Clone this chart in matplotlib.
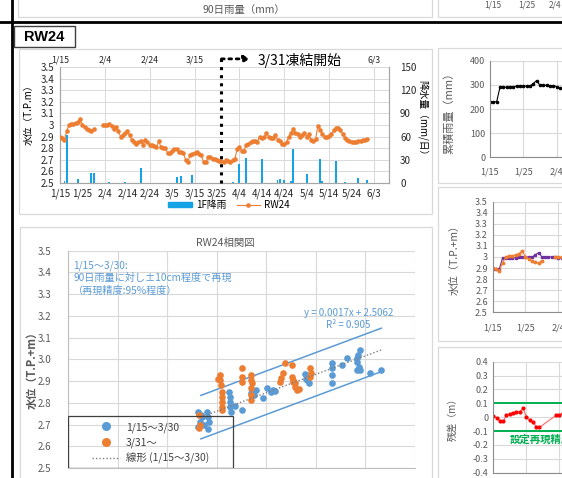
import numpy as np
import pandas as pd
import matplotlib
matplotlib.use("Agg")
import matplotlib.pyplot as plt
import matplotlib.dates as mdates
from matplotlib.patches import Rectangle, Patch
from matplotlib.lines import Line2D
from matplotlib.ticker import MultipleLocator, FuncFormatter

plt.rcParams['font.family'] = ['Noto Sans CJK JP', 'DejaVu Sans']

W, H = 562, 478

# ---------------- data ----------------
year = 2020
start = pd.Timestamp(f'{year}-01-15')

# RW24 daily water level (T.P.m) from 1/15, nan = no data
rw24 = [2.90, 2.89, 2.87, 2.95, 3.00, 3.01, 3.01, 3.02, 3.03, 3.055,
        3.00, 2.98, 2.965, 2.955, 2.945, 2.965, np.nan, np.nan, np.nan, 3.00,
        3.00, 3.00, 3.01, 2.99, 2.965, 2.985, 2.95, 2.90, 2.91, 2.93,
        2.95, 2.91, 2.87, 2.85, 2.84, 2.85, 2.86, 2.83, 2.87, 2.85,
        2.83, 2.825, 2.82, 2.81, 2.86, 2.81, 2.805, 2.80, 2.76, 2.76,
        2.78, 2.79, 2.79, 2.77, 2.765, 2.76, 2.70, 2.68, 2.74, 2.75,
        2.76, 2.77, 2.75, 2.74, 2.68, 2.68, 2.72, 2.72, 2.71, 2.705,
        2.70, 2.69, 2.69, 2.68, 2.70, 2.69, 2.68, 2.70, 2.71, 2.79,
        2.81, 2.775, 2.78, 2.83, 2.84, 2.85, 2.86, 2.86, 2.855, 2.90,
        2.885, 2.90, 2.93, 2.90, 2.89, 2.885, 2.91, 2.875, 2.86, 2.84,
        2.84, 2.85, 2.90, 2.93, 2.965, 2.93, 2.92, 2.90, 2.91, 2.935,
        2.90, 2.92, 2.87, 2.86, 2.88, 2.995, 2.96, 2.92, 2.90, 2.90,
        2.905, 2.92, 2.955, 2.97, 2.975, 2.96, 2.92, 2.89, 2.875, 2.86,
        2.85, 2.85, 2.855, 2.86, 2.865, 2.87, 2.875, 2.88]

# 1F daily rainfall (mm/day)
rain_dates = ['1/17', '1/18', '1/23', '1/29', '1/30', '2/6', '2/13', '2/20',
              '3/7', '3/9', '3/14', '4/1', '4/4', '4/7', '4/14', '4/21',
              '4/22', '4/24', '4/27', '4/28', '5/4', '5/10', '5/11', '5/17',
              '5/21', '5/27', '5/31']
rain_mm = [2, 62, 5, 12.5, 12.5, 1, 1, 20,
           7.5, 9, 10.5, 1, 24.5, 32, 30.5, 4,
           5, 4, 2, 44, 11, 30.5, 3, 29,
           1, 7, 3.5]

top_labels = ['1/15', '2/4', '2/24', '3/15', '6/3']
freeze_line = '3/27'
freeze_arrow_end = '4/9'
freeze_text_at = '4/12'
freeze_text = '3/31凍結開始'

# correlation: 90-day rainfall (mm) vs level
blue_x = [131, 135, 133, 131, 140, 141, 142, 141, 134, 137,
          162, 163, 163, 163, 164, 168, 176, 185, 190, 188,
          197, 201, 205, 207, 239, 241, 243, 240, 266, 266,
          266, 266, 276, 281, 291, 293, 295, 292, 294, 291,
          295, 305, 316, 186, 209]
blue_y = [2.759, 2.733, 2.713, 2.690, 2.759, 2.736, 2.713, 2.678, 2.745, 2.700,
          2.851, 2.828, 2.805, 2.782, 2.759, 2.785, 2.767, 2.844, 2.859, 2.836,
          2.821, 2.867, 2.852, 2.859, 2.932, 2.905, 2.890, 2.910, 2.982, 2.959,
          2.928, 2.889, 2.974, 3.005, 3.005, 3.020, 3.043, 2.989, 2.966, 2.951,
          2.951, 2.939, 2.951, 2.850, 2.855]
orange_x = [132, 132, 133, 153, 153, 154, 155, 155, 155, 155, 155,
            175, 175, 176, 185, 185, 186, 185, 185, 185,
            214, 215, 217, 219, 227, 229, 226, 226, 227, 229, 231, 233,
            244, 245, 244, 151]
orange_y = [2.744, 2.683, 2.698, 2.928, 2.905, 2.882, 2.851, 2.828, 2.805, 2.782, 2.767,
            2.959, 2.918, 2.897, 2.928, 2.905, 2.890, 2.867, 2.836, 2.813,
            2.897, 2.913, 2.936, 2.982, 2.905, 2.890, 2.974, 2.920, 2.897, 2.874, 2.859, 2.862,
            2.960, 2.936, 2.920, 2.910]
trend_slope, trend_intercept, trend_r2 = 0.0017, 2.5062, 0.905
trend_range = [134, 316]
band = 0.1

# right column (first three weeks visible)
cum90 = [230, 230, 230, 290, 290, 290, 290, 292, 295, 295, 295,
         295, 295, 305, 318, 298, 298, 298, 297, 297, 293, 285]
pred = [2.89, 2.89, 2.89, 2.99, 2.99, 2.99, 2.99, 2.995, 3.0, 3.0, 3.0,
        3.0, 3.0, 3.02, 3.04, 3.0, 3.0, 3.0, 3.0, 3.0, 2.995, 2.99]
resid_days = [0, 1, 2, 3, 4, 5, 6, 7, 8, 9, 10, 11, 12, 13, 14, 19, 20, 21]
resid = [0.008, -0.005, -0.025, -0.03, 0.015, 0.025, 0.03, 0.035, 0.04, 0.064,
         0.004, -0.02, -0.035, -0.068, -0.073, 0.013, 0.013, 0.028]
tolerance = 0.1

# ---------------- style ----------------
grid_c = '#D9D9D9'
gray_t = '#595959'
blue_c = '#5B9BD5'
orange_c = '#ED7D31'
rain_c = '#13A3E6'


def md(v, pos=None):
    d = mdates.num2date(v)
    return f'{d.month}/{d.day}'


def general(v, pos=None):
    return f'{round(v, 2) + 0.0:g}'


def day(s):
    return mdates.date2num(pd.Timestamp(f'{year}/{s}'))


fig = plt.figure(figsize=(W / 100, H / 100), dpi=100)


def px_axes(x0, y0, x1, y1, **kw):
    return fig.add_axes([x0 / W, 1 - y1 / H, (x1 - x0) / W, (y1 - y0) / H], **kw)


bg = fig.add_axes([0, 0, 1, 1], zorder=-10)
bg.set_xlim(0, W)
bg.set_ylim(H, 0)
bg.axis('off')

for (x0, y0, x1, y1) in [(18, -5, 432, 17), (438, -5, 575, 17), (19, 49, 432, 214),
                         (438, 48, 575, 183), (438, 187, 575, 341), (438, 347, 575, 490),
                         (20, 227, 432, 490)]:
    bg.add_patch(Rectangle((x0, y0), x1 - x0, y1 - y0, facecolor='white',
                           edgecolor=grid_c, lw=0.9))
bg.plot([0, W], [21.5, 21.5], color='black', lw=2)
bg.plot([12, 12], [0, H], color='black', lw=2)
bg.add_patch(Rectangle((14, 26), 61, 21, facecolor='white', edgecolor='#404040', lw=1))
bg.text(44.5, 36.8, 'RW24', ha='center', va='center', fontsize=10.5,
        fontweight='bold', family='Liberation Sans')
bg.text(244, 9.5, '90日雨量（mm）', ha='center', va='center', fontsize=7.5, color=gray_t)
for lab, xx in zip(['1/15', '1/25', '2/4'], [493, 527, 555]):
    bg.text(xx, 5, lab, ha='center', va='center', fontsize=6, color=gray_t)
bg.text(225, 243, 'RW24相関図', ha='center', va='center', fontsize=7.5, color=gray_t)

# ---------------- RW24 time series ----------------
dates = pd.date_range(start, periods=len(rw24))
rain_days = pd.to_datetime([f'{year}/{d}' for d in rain_dates])
ticks10 = pd.date_range(start, f'{year}-06-03', freq='10D')
ticks20 = pd.date_range(start, f'{year}-06-03', freq='20D')

ax_rain = px_axes(60, 67, 389, 183)
ax_rain.bar(rain_days, rain_mm, width=0.85, color=rain_c, zorder=2)
ax_rain.set_ylim(0, 150)
ax_rain.set_xlim(start, start + pd.Timedelta(days=146.7))
ax_rain.yaxis.set_major_locator(MultipleLocator(30))
ax_rain.yaxis.set_minor_locator(MultipleLocator(15))
ax_rain.grid(axis='y', which='both', color=grid_c, lw=0.7)
for d in ticks20[1:]:
    ax_rain.axvline(d, color=grid_c, lw=0.7, zorder=0)
ax_rain.set_axisbelow(True)
ax_rain.set_xticks(ticks10)
ax_rain.xaxis.set_major_formatter(FuncFormatter(md))
ax_rain.tick_params(axis='x', length=0, labelsize=7, pad=4, colors='#262626')

ax_lv = ax_rain.twinx()
ax_lv.plot(dates, rw24, color=orange_c, lw=0.8, marker='o', ms=2.3, zorder=3)
ax_lv.set_ylim(2.5, 3.5)
ax_lv.yaxis.set_major_locator(MultipleLocator(0.1))
ax_lv.yaxis.set_major_formatter(FuncFormatter(general))

ax_rain.yaxis.tick_right()
ax_rain.yaxis.set_label_position('right')
ax_lv.yaxis.tick_left()
ax_lv.yaxis.set_label_position('left')
ax_rain.tick_params(axis='y', which='both', length=0, labelsize=7, pad=8, colors='#262626')
ax_lv.tick_params(axis='y', length=0, labelsize=7, pad=4, colors='#262626')
ax_lv.set_ylabel('水位（T.P.m）', fontsize=7)
ax_lv.yaxis.set_label_coords(-0.079, 0.61)
ax_rain.set_ylabel('降水量（mm/日）', fontsize=7, rotation=270, va='center')
ax_rain.yaxis.set_label_coords(1.103, 0.54)
for a in (ax_rain, ax_lv):
    a.spines['top'].set_visible(False)
    for s in ('left', 'right', 'bottom'):
        a.spines[s].set_color('#A6A6A6')
        a.spines[s].set_linewidth(0.8)

for lab in top_labels:
    ax_rain.text(day(lab), 1.063, lab, transform=ax_rain.get_xaxis_transform(),
                 ha='center', va='center', fontsize=6.3, color='#262626')

fx = day(freeze_line)
ax_lv.plot([fx, fx], [2.5, 3.605], ls=':', color='black', lw=2.2, clip_on=False, zorder=5)
ax_lv.annotate('', xy=(day(freeze_arrow_end), 3.57), xytext=(fx, 3.57),
               arrowprops=dict(arrowstyle='-|>', ls=':', lw=2, color='black',
                               mutation_scale=9, shrinkA=0, shrinkB=0),
               annotation_clip=False)
ax_lv.text(day(freeze_text_at), 3.552, freeze_text, ha='left', va='center', fontsize=10)

ts_handles = [Patch(facecolor=rain_c, edgecolor=rain_c, label='1F降雨'),
              Line2D([], [], color=orange_c, lw=0.8, marker='o', ms=2.3, label='RW24')]
fig.legend(handles=ts_handles, loc='center', bbox_to_anchor=(229 / W, 1 - 205 / H),
           ncol=2, frameon=False, fontsize=7, handlelength=2.4, handleheight=0.5,
           columnspacing=1.1, handletextpad=0.4)

# ---------------- correlation chart ----------------
ax_s = px_axes(68, 250.7, 415, 468)
ax_s.set_xlim(0, 350)
ax_s.set_ylim(2.5, 3.5)
ax_s.xaxis.set_major_locator(MultipleLocator(50))
ax_s.yaxis.set_major_locator(MultipleLocator(0.1))
ax_s.yaxis.set_major_formatter(FuncFormatter(lambda v, p: f'{v:.1f}'))
ax_s.grid(True, color=grid_c, lw=0.8)
ax_s.set_axisbelow(True)
ax_s.tick_params(length=0, labelsize=7, colors=gray_t, pad=12, labelbottom=False)
for s in ('top', 'right'):
    ax_s.spines[s].set_visible(False)
for s in ('left', 'bottom'):
    ax_s.spines[s].set_color('#BFBFBF')
ax_s.set_ylabel('水位（T.P.+m）', fontsize=8, fontweight='bold', color=gray_t)
ax_s.yaxis.set_label_coords(-0.085, 0.465)

tx = np.array(trend_range, dtype=float)
ty = trend_slope * tx + trend_intercept
ax_s.plot(tx, ty + band, color=blue_c, lw=1.1, zorder=2)
ax_s.plot(tx, ty - band, color=blue_c, lw=1.1, zorder=2)
ax_s.scatter(blue_x, blue_y, s=23, color=blue_c, zorder=3, linewidths=0)
ax_s.scatter(orange_x, orange_y, s=23, color=orange_c, zorder=3, linewidths=0)
ax_s.plot(tx, ty, color='#7F7F7F', lw=1, ls=(0, (1, 1.5)), zorder=4)

ax_s.text(0.015, 0.955, '1/15～3/30:\n90日雨量に対し±10cm程度で再現\n（再現精度:95%程度）',
          transform=ax_s.transAxes, ha='left', va='top', fontsize=7.3, color=blue_c,
          linespacing=1.25)
ax_s.text(0.808, 0.685, f'y = {trend_slope}x + {trend_intercept}\nR² = {trend_r2}',
          transform=ax_s.transAxes, ha='center', va='center', fontsize=7, color=blue_c,
          linespacing=1.3)

ax_s.add_patch(Rectangle((0, 0), 0.4755, 0.239, transform=ax_s.transAxes, fill=False,
                         edgecolor='#404040', lw=0.9, zorder=6))
s_handles = [Line2D([], [], ls='none', marker='o', ms=5.5, color=blue_c, label='1/15～3/30'),
             Line2D([], [], ls='none', marker='o', ms=5.5, color=orange_c, label='3/31～'),
             Line2D([], [], color='#7F7F7F', lw=1, ls=(0, (1, 1.5)), label='線形 (1/15～3/30)')]
ax_s.legend(handles=s_handles, loc='upper left', bbox_to_anchor=(0.055, 0.235),
            frameon=False, fontsize=7.5, borderpad=0, handlelength=2.7,
            handletextpad=0.5, labelspacing=0.45, labelcolor='#404040')

# ---------------- right column ----------------
right_days = pd.date_range(start, periods=len(cum90))
right_ticks = pd.date_range(start, periods=3, freq='10D')


def right_axes(x0, y0, y1, ppd):
    a = px_axes(x0, y0, x0 + 70 * ppd, y1)
    a.set_xlim(start, start + pd.Timedelta(days=70))
    a.set_xticks(right_ticks)
    a.xaxis.set_major_formatter(FuncFormatter(md))
    for d in right_ticks[1:]:
        a.axvline(d, color=grid_c, lw=0.8, zorder=0)
    a.grid(axis='y', color=grid_c, lw=0.8)
    a.set_axisbelow(True)
    for s in ('top', 'right'):
        a.spines[s].set_visible(False)
    for s in ('left', 'bottom'):
        a.spines[s].set_color('#8C8C8C')
        a.spines[s].set_linewidth(0.8)
    a.tick_params(length=0, labelsize=6.5, colors=gray_t)
    return a


ax_a = right_axes(490, 60.7, 157.3, 3.33)
ax_a.plot(right_days, cum90, color='black', lw=0.8, marker='o', ms=1.6)
ax_a.set_ylim(0, 400)
ax_a.yaxis.set_major_locator(MultipleLocator(100))
ax_a.tick_params(axis='x', pad=7)
ax_a.set_ylabel('累積雨量（mm）', fontsize=8, color=gray_t)
ax_a.yaxis.set_label_coords(-0.155, 0.49)

ax_b = right_axes(492.7, 201.7, 312.3, 3.28)
ax_b.plot(right_days, pred, color='#7030A0', lw=0.8, marker='s', ms=1.6)
ax_b.plot(right_days, rw24[:len(right_days)], color=orange_c, lw=0.8, marker='o', ms=1.8)
ax_b.set_ylim(2.5, 3.5)
ax_b.yaxis.set_major_locator(MultipleLocator(0.1))
ax_b.yaxis.set_major_formatter(FuncFormatter(general))
ax_b.tick_params(axis='x', pad=8)
ax_b.set_ylabel('水位（T.P.+m）', fontsize=7.5, color=gray_t)
ax_b.yaxis.set_label_coords(-0.142, 0.5)

ax_c = right_axes(493.3, 361.7, 472.7, 3.3)
ax_c.plot(start + pd.to_timedelta(resid_days, unit='D'), resid, color='#FF6666', lw=0.8,
          marker='o', ms=2, mfc='#FF0000', mec='#FF0000')
ax_c.axhline(tolerance, color='#00B050', lw=1.4)
ax_c.axhline(-tolerance, color='#00B050', lw=1.4)
ax_c.set_ylim(-0.4, 0.4)
ax_c.yaxis.set_major_locator(MultipleLocator(0.1))
ax_c.yaxis.set_major_formatter(FuncFormatter(general))
ax_c.tick_params(axis='x', labelbottom=False)
ax_c.set_ylabel('残差（m）', fontsize=7, color=gray_t)
ax_c.yaxis.set_label_coords(-0.153, 0.5)
ax_c.text(day('1/20'), -0.165, '設定再現精度', ha='left', va='center',
          fontsize=7.5, fontweight='bold', color='#00B050')

fig.savefig('out.png', dpi=100)
